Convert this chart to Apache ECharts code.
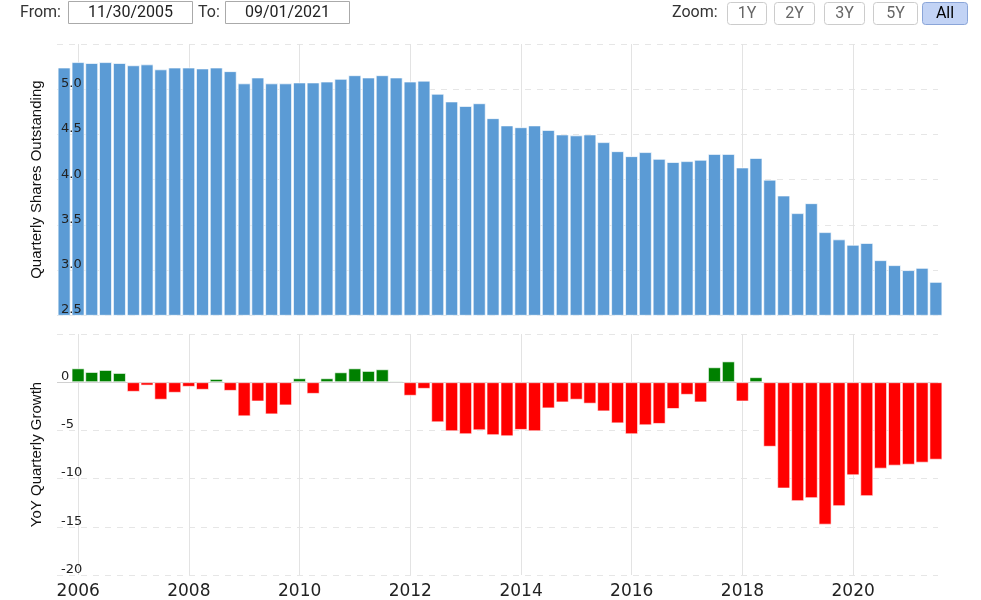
<!DOCTYPE html>
<html>
<head>
<meta charset="utf-8">
<script src="https://cdn.jsdelivr.net/npm/echarts@6/dist/echarts.min.js"></script>
<style>
html,body{margin:0;padding:0;background:#fff;}
#chart{width:981px;height:600px;}
</style>
</head>
<body>
<div id="chart"></div>
<script>
const quarterDates = [
  '2005-09-30','2005-12-31',
  '2006-03-31','2006-06-30','2006-09-30','2006-12-31',
  '2007-03-31','2007-06-30','2007-09-30','2007-12-31',
  '2008-03-31','2008-06-30','2008-09-30','2008-12-31',
  '2009-03-31','2009-06-30','2009-09-30','2009-12-31',
  '2010-03-31','2010-06-30','2010-09-30','2010-12-31',
  '2011-03-31','2011-06-30','2011-09-30','2011-12-31',
  '2012-03-31','2012-06-30','2012-09-30','2012-12-31',
  '2013-03-31','2013-06-30','2013-09-30','2013-12-31',
  '2014-03-31','2014-06-30','2014-09-30','2014-12-31',
  '2015-03-31','2015-06-30','2015-09-30','2015-12-31',
  '2016-03-31','2016-06-30','2016-09-30','2016-12-31',
  '2017-03-31','2017-06-30','2017-09-30','2017-12-31',
  '2018-03-31','2018-06-30','2018-09-30','2018-12-31',
  '2019-03-31','2019-06-30','2019-09-30','2019-12-31',
  '2020-03-31','2020-06-30','2020-09-30','2020-12-31',
  '2021-03-31','2021-06-30'
];

const sharesOutstanding = [
  5.24, 5.30, 5.29, 5.30, 5.29, 5.265, 5.275, 5.22, 5.24, 5.24,
  5.23, 5.24, 5.20, 5.065, 5.13, 5.065, 5.065, 5.075, 5.075, 5.085,
  5.115, 5.155, 5.13, 5.155, 5.13, 5.085, 5.095, 4.95, 4.865, 4.815,
  4.845, 4.68, 4.60, 4.58, 4.60, 4.55, 4.50, 4.49, 4.50, 4.415,
  4.315, 4.26, 4.305, 4.23, 4.195, 4.205, 4.22, 4.285, 4.285, 4.135,
  4.24, 4.00, 3.825, 3.63, 3.74, 3.42, 3.34, 3.28, 3.30, 3.11,
  3.055, 3.00, 3.025, 2.87
];

// YoY growth starts from the second quarter in the list
const growthDates = quarterDates.slice(1);
const yoyGrowth = [
  1.44, 1.06, 1.27, 0.96, -1.0, -0.35, -1.82, -1.10, -0.48, -0.79,
  0.34, -0.90, -3.54, -2.0, -3.34, -2.41, 0.41, -1.21, 0.41,
  1.03, 1.44, 1.17, 1.34, 0.13, -1.41, -0.69, -4.16, -5.09, -5.40,
  -4.99, -5.50, -5.61, -4.95, -5.09, -2.72, -2.10, -1.82, -2.23, -3.03,
  -4.27, -5.40, -4.47,
  -4.33, -2.78, -1.31, -2.10, 1.55, 2.16, -2.0, 0.52, -6.70, -11.03,
  -12.34, -12.03, -14.78, -12.86, -9.66, -11.82, -8.97, -8.66, -8.56,
  -8.35, -8.04
];

// x tick labels / vertical grid lines
const yearTicks = ['2006', '2008', '2010', '2012', '2014', '2016', '2018', '2020'];

const fromDate = '11/30/2005';
const toDate = '09/01/2021';
const zoomButtons = ['1Y', '2Y', '3Y', '5Y', 'All'];

// desired visible time range of the plot area
const viewStart = '2005-08-14';
const viewEnd = '2021-07-14';
const GRID_LEFT = 57, GRID_RIGHT = 43, CHART_W = 981;
const BAR_W = 13;
const ONE_YEAR = 365.25 * 86400000;

// ECharts widens a time axis that carries bars by the bar width; pre-shrink so the final view matches
const plotW = CHART_W - GRID_LEFT - GRID_RIGHT;
const vs = echarts.time.parse(viewStart).getTime();
const ve = echarts.time.parse(viewEnd).getTime();
const pad = (ve - vs) * BAR_W / plotW / 2;
const xMin = vs + pad;
const xMax = ve - pad;

const chart = echarts.init(document.getElementById('chart'), null, {renderer: 'canvas'});

const sharesData = quarterDates.map((d, i) => [d, sharesOutstanding[i]]);
const growthData = growthDates.map((d, i) => [d, yoyGrowth[i]]);

const gridLine = {show: true, lineStyle: {color: '#e6e6e6', type: [6, 6], width: 1}};
const labelFont = {fontFamily: 'DejaVu Sans', fontSize: 13, color: '#222', lineHeight: 11};
const titleStyle = {fontFamily: 'Liberation Sans', fontSize: 15, color: '#111'};

function evenYear(v) {
  const y = new Date(v).getFullYear();
  return yearTicks.indexOf(String(y)) >= 0 ? String(y) : '';
}

function xAxisCfg(gridIndex, showLabels) {
  return {
    type: 'time', gridIndex: gridIndex, min: xMin, max: xMax,
    splitNumber: 16, minInterval: ONE_YEAR, maxInterval: ONE_YEAR,
    axisLine: {show: false}, axisTick: {show: false},
    splitLine: {show: false},
    axisLabel: {
      show: showLabels, formatter: evenYear, margin: 8,
      fontFamily: 'DejaVu Sans', fontSize: 17, color: '#222',
      hideOverlap: false
    }
  };
}

const yearLines = yearTicks.map(y => ({xAxis: y + '-01-01'}));

// graphic controls
const graphics = [];
graphics.push({type: 'text', left: 20, top: 5, style: {text: 'From:', font: '16px Roboto', fill: '#333'}});
graphics.push({type: 'rect', shape: {x: 68.5, y: 1.5, width: 124, height: 22}, style: {fill: '#fff', stroke: '#aaa', lineWidth: 1}});
graphics.push({type: 'text', x: 130.5, y: 13, style: {text: fromDate, font: '16px Roboto', fill: '#222', align: 'center', verticalAlign: 'middle'}});
graphics.push({type: 'text', left: 198, top: 5, style: {text: 'To:', font: '16px Roboto', fill: '#333'}});
graphics.push({type: 'rect', shape: {x: 225.5, y: 1.5, width: 124, height: 22}, style: {fill: '#fff', stroke: '#aaa', lineWidth: 1}});
graphics.push({type: 'text', x: 287.5, y: 13, style: {text: toDate, font: '16px Roboto', fill: '#222', align: 'center', verticalAlign: 'middle'}});
graphics.push({type: 'text', left: 672, top: 5, style: {text: 'Zoom:', font: '16px Roboto', fill: '#333'}});
const btnX = [727, 774, 824, 873, 922];
const btnW = [39, 40, 40, 44, 45];
zoomButtons.forEach((b, i) => {
  const active = b === 'All';
  graphics.push({type: 'rect', shape: {x: btnX[i] + 0.5, y: 2.5, width: btnW[i], height: 22, r: 3},
    style: {fill: active ? '#c2d3f5' : '#fff', stroke: active ? '#8aa5d8' : '#cccccc', lineWidth: 1}});
  graphics.push({type: 'text', x: btnX[i] + btnW[i] / 2 + 0.5, y: 14,
    style: {text: b, font: '16px Roboto', fill: active ? '#000' : '#666', align: 'center', verticalAlign: 'middle'}});
});

const vLineStyle = {color: '#e3e3e3', type: 'solid', width: 1};

const option = {
  animation: false,
  backgroundColor: '#fff',
  graphic: graphics,
  grid: [
    {left: GRID_LEFT, right: GRID_RIGHT, top: 44, height: 271.3},
    {left: GRID_LEFT, right: GRID_RIGHT, top: 334, height: 242.7}
  ],
  xAxis: [xAxisCfg(0, false), xAxisCfg(1, true)],
  yAxis: [
    {type: 'value', gridIndex: 0, min: 2.5, max: 5.5, interval: 0.5, z: 0,
      axisLine: {show: false}, axisTick: {show: false}, axisLabel: {show: false}, splitLine: gridLine},
    {type: 'value', gridIndex: 0, min: 2.5, max: 5.5, interval: 0.5, z: 10, position: 'left',
      axisLine: {show: false}, axisTick: {show: false}, splitLine: {show: false},
      name: 'Quarterly Shares Outstanding', nameLocation: 'middle', nameRotate: 90, nameGap: 13,
      nameTextStyle: titleStyle,
      axisLabel: Object.assign({inside: true, margin: 4, verticalAlign: 'bottom', showMaxLabel: false,
        formatter: v => v.toFixed(1)}, labelFont)},
    {type: 'value', gridIndex: 1, min: -20, max: 5, interval: 5, z: 0,
      axisLine: {show: false}, axisTick: {show: false}, axisLabel: {show: false}, splitLine: gridLine},
    {type: 'value', gridIndex: 1, min: -20, max: 5, interval: 5, z: 10, position: 'left',
      axisLine: {show: false}, axisTick: {show: false}, splitLine: {show: false},
      name: 'YoY Quarterly Growth', nameLocation: 'middle', nameRotate: 90, nameGap: 13,
      nameTextStyle: titleStyle,
      axisLabel: Object.assign({inside: true, margin: 4, verticalAlign: 'bottom', showMaxLabel: false}, labelFont)}
  ],
  series: [
    {
      type: 'line', xAxisIndex: 0, yAxisIndex: 0, data: [], z: 1, silent: true,
      markLine: {silent: true, z: 1, symbol: 'none', label: {show: false}, lineStyle: vLineStyle, data: yearLines}
    },
    {
      type: 'bar', xAxisIndex: 0, yAxisIndex: 0, data: sharesData,
      barWidth: BAR_W, clip: true, z: 3,
      itemStyle: {color: '#5b9bd5', borderColor: 'rgba(255,255,255,0.65)', borderWidth: 1}
    },
    {
      type: 'line', xAxisIndex: 1, yAxisIndex: 2, data: [], z: 1, silent: true,
      markLine: {silent: true, z: 1, symbol: 'none', label: {show: false}, lineStyle: vLineStyle,
        data: yearLines.concat([{yAxis: 0, lineStyle: {color: '#d0d0d0', type: 'solid', width: 1}}])}
    },
    {
      type: 'bar', xAxisIndex: 1, yAxisIndex: 2, data: growthData,
      barWidth: BAR_W, clip: true, z: 3,
      itemStyle: {
        color: p => (p.value[1] >= 0 ? '#008000' : '#ff0000'),
        borderColor: 'rgba(255,255,255,0.6)', borderWidth: 1
      }
    }
  ]
};
chart.setOption(option);
</script>
</body>
</html>
